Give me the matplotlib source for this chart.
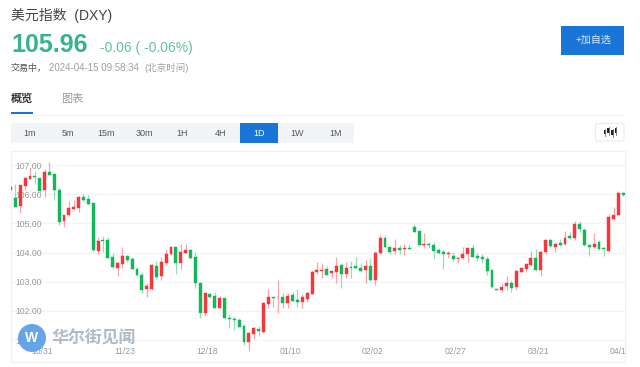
import matplotlib

matplotlib.use("Agg")
import matplotlib.pyplot as plt
from matplotlib.patches import Circle, FancyBboxPatch, Rectangle

plt.rcParams["font.family"] = ["Liberation Sans", "Noto Sans CJK SC", "DejaVu Sans"]

opens = [
    106.24, 105.86, 105.61, 106.28, 106.53, 106.63, 106.55, 106.14, 106.75, 106.68,
    106.16, 105.08, 105.28, 105.49, 105.54, 105.92, 105.82, 105.69, 104.07, 104.42,
    104.42, 103.84, 103.48, 103.60, 103.88, 103.78, 103.43, 103.24, 102.74, 102.74,
    103.53, 103.20, 103.63, 103.95, 104.19, 103.63, 104.00, 104.10, 103.84, 102.96,
    101.92, 102.57, 102.51, 102.11, 102.43, 101.77, 101.74, 101.69, 101.49, 100.95,
    101.22, 101.38, 101.28, 102.23, 102.48, 102.46, 102.47, 102.26, 102.53, 102.37,
    102.30, 102.41, 102.58, 103.32, 103.37, 103.42, 103.30, 103.32, 103.59, 103.27,
    103.52, 103.53, 103.47, 103.40, 103.54, 103.05, 103.98, 104.49, 104.19, 104.06,
    104.15, 104.11, 104.15, 104.89, 104.74, 104.27, 104.31, 104.26, 104.10, 104.01,
    103.95, 103.88, 103.78, 103.82, 103.95, 104.15, 103.87, 103.84, 103.78, 103.39,
    102.75, 102.73, 102.86, 102.95, 102.81, 103.35, 103.43, 103.59, 103.82, 103.39,
    104.01, 104.44, 104.19, 104.32, 104.28, 104.57, 104.49, 104.98, 104.77, 104.26,
    104.20, 104.35, 104.16, 104.07, 105.16, 105.27, 106.04,
]
highs = [
    106.24, 106.34, 106.31, 106.58, 106.91, 106.81, 106.57, 106.86, 107.11, 106.69,
    106.22, 105.29, 105.78, 105.80, 105.94, 106.02, 105.96, 105.72, 104.52, 104.57,
    104.55, 103.97, 103.69, 104.20, 103.92, 103.86, 103.51, 103.34, 102.95, 103.60,
    103.71, 103.86, 104.11, 104.24, 104.20, 104.30, 104.30, 104.11, 104.01, 102.97,
    102.63, 102.63, 102.64, 102.51, 102.45, 101.90, 101.81, 101.77, 101.55, 101.27,
    101.44, 101.49, 102.29, 102.74, 102.49, 103.06, 102.61, 102.63, 102.66, 102.75,
    102.58, 102.66, 103.40, 103.69, 103.63, 103.54, 103.40, 103.84, 103.60, 103.69,
    103.72, 103.84, 103.63, 103.75, 103.80, 104.06, 104.60, 104.60, 104.20, 104.45,
    104.26, 104.30, 104.30, 104.97, 104.75, 104.68, 104.37, 104.37, 104.15, 104.09,
    104.07, 104.02, 103.86, 104.20, 104.20, 104.28, 103.98, 103.94, 103.88, 103.40,
    102.75, 102.95, 103.18, 103.03, 103.40, 103.48, 103.63, 104.07, 104.12, 104.06,
    104.47, 104.47, 104.32, 104.45, 104.74, 104.72, 105.08, 105.08, 104.83, 104.27,
    104.68, 104.43, 104.18, 105.31, 105.55, 106.10, 106.08,
]
lows = [
    106.16, 105.55, 105.37, 106.14, 106.52, 106.34, 106.09, 105.92, 106.65, 105.80,
    104.95, 104.86, 105.25, 105.48, 105.40, 105.77, 105.62, 104.07, 103.95, 104.03,
    103.80, 103.45, 103.20, 103.48, 103.69, 103.43, 103.20, 102.63, 102.46, 102.71,
    103.11, 103.06, 103.58, 103.92, 103.27, 103.43, 103.98, 103.77, 102.78, 101.77,
    101.81, 102.43, 102.09, 102.09, 101.74, 101.43, 101.33, 101.44, 100.84, 100.62,
    101.04, 101.14, 101.24, 102.09, 102.15, 101.92, 102.09, 102.09, 102.32, 102.15,
    102.09, 102.32, 102.57, 103.27, 103.14, 103.23, 103.12, 102.97, 102.77, 103.12,
    103.14, 103.44, 103.32, 102.95, 103.04, 102.90, 103.95, 104.17, 103.95, 103.95,
    103.95, 103.90, 104.11, 104.70, 104.24, 104.17, 104.15, 103.78, 103.95, 103.43,
    103.80, 103.72, 103.63, 103.77, 103.67, 103.84, 103.72, 103.63, 103.23, 102.80,
    102.73, 102.64, 102.72, 102.66, 102.72, 103.32, 103.35, 103.54, 103.38, 103.18,
    103.94, 104.15, 104.03, 104.23, 104.26, 104.47, 104.43, 104.69, 104.23, 103.89,
    104.15, 104.09, 103.88, 104.03, 105.12, 105.27, 105.94,
]
closes = [
    106.16, 105.57, 106.30, 106.55, 106.62, 106.59, 106.12, 106.75, 106.65, 106.14,
    105.03, 105.29, 105.53, 105.56, 105.92, 105.80, 105.65, 104.09, 104.41, 104.39,
    103.83, 103.51, 103.64, 103.88, 103.76, 103.43, 103.22, 102.71, 102.86, 103.58,
    103.16, 103.66, 103.95, 104.20, 103.63, 104.01, 104.09, 103.80, 102.95, 101.94,
    102.61, 102.49, 102.09, 102.43, 101.76, 101.72, 101.69, 101.45, 100.92, 101.24,
    101.40, 101.30, 102.26, 102.47, 102.43, 102.48, 102.26, 102.50, 102.35, 102.31,
    102.46, 102.61, 103.35, 103.39, 103.40, 103.23, 103.36, 103.55, 103.26, 103.47,
    103.47, 103.46, 103.38, 103.54, 103.05, 104.00, 104.49, 104.18, 104.03, 104.15,
    104.09, 104.15, 104.12, 104.72, 104.27, 104.30, 104.25, 104.07, 103.99, 103.94,
    104.00, 103.77, 103.83, 103.94, 104.15, 103.86, 103.83, 103.78, 103.37, 102.81,
    102.73, 102.83, 102.95, 102.80, 103.38, 103.46, 103.60, 103.82, 103.39, 104.03,
    104.43, 104.21, 104.31, 104.26, 104.51, 104.51, 104.98, 104.80, 104.25, 104.20,
    104.30, 104.11, 104.11, 105.22, 105.29, 106.03, 105.96,
]

y_ticks = [107, 106, 105, 104, 103, 102, 101]
date_labels = ["10/31", "11/23", "12/18", "01/10", "02/02", "02/27", "03/21", "04/15"]
date_pos = [6.5, 23.5, 40.5, 57.5, 74.5, 91.5, 108.5, 125.5]
periods = ["1m", "5m", "15m", "30m", "1H", "4H", "1D", "1W", "1M"]
active_period = "1D"

RED = "#f8343c"
GREEN = "#12b65b"
BLUE = "#1976d8"
TEAL = "#37b48e"

W, H = 640, 367
fig = plt.figure(figsize=(W / 100, H / 100), dpi=100, facecolor="white")

# chart panel, in pixels of the page
left, right, top, bottom = 11, 625.3, 151, 361.7
ax = fig.add_axes([left / W, 1 - bottom / H, (right - left) / W, (bottom - top) / H], zorder=1)
ax.set_xlim(0.1, 126.4)
ax.set_ylim(100.26, 107.48)

for i in range(len(opens)):
    color = RED if closes[i] >= opens[i] else GREEN
    ax.vlines(i, lows[i], highs[i], color=color, linewidth=0.9, alpha=0.45, zorder=3)
    ax.bar(
        i,
        abs(closes[i] - opens[i]),
        bottom=min(opens[i], closes[i]),
        width=0.6,
        color=color,
        edgecolor=color,
        linewidth=0.3,
        zorder=4,
    )

ax.set_yticks(y_ticks)
ax.set_yticklabels([f"{v:.2f}" for v in y_ticks], ha="left")
ax.tick_params(axis="y", length=0, pad=-3, labelsize=6.2, labelcolor="#9a9a9a")
ax.set_xticks(date_pos)
ax.set_xticklabels(date_labels)
ax.tick_params(axis="x", length=0, pad=-10.6, labelsize=6.2, labelcolor="#9a9a9a")
for label in ax.get_xticklabels():
    label.set_clip_box(ax.bbox)
    label.set_clip_on(True)
ax.grid(axis="y", color="#f3f3f3", linewidth=0.9)
ax.set_axisbelow(True)
for spine in ax.spines.values():
    spine.set_color("#f0f0f0")
    spine.set_linewidth(0.9)

# page furniture and watermark on an overlay in pixel coordinates
ui = fig.add_axes([0, 0, 1, 1], zorder=2)
ui.set_xlim(0, W)
ui.set_ylim(H, 0)
ui.axis("off")
ui.patch.set_alpha(0)

ui.text(11, 15, "美元指数  (DXY)", fontsize=10, color="#444444", va="center")
ui.text(11, 45, "105.96", fontsize=18, fontweight="bold", color=TEAL, va="center")
ui.text(100.5, 48, "-0.06 ( -0.06%)", fontsize=10, color="#5fc2a4", va="center")
ui.text(11, 71, "交易中，", fontsize=6.5, color="#555555", va="baseline")
ui.text(49, 71, "2024-04-15 09:58:34", fontsize=7, color="#a0a0a0", va="baseline")
ui.text(144, 71, "(北京时间)", fontsize=6.8, color="#a0a0a0", va="baseline")

ui.text(11, 99, "概览", fontsize=8, fontweight="bold", color="#333333", va="center")
ui.text(61, 99, "图表", fontsize=8, color="#9a9a9a", va="center")
ui.add_patch(Rectangle((11, 112), 22, 2.2, color=BLUE, linewidth=0))
ui.plot([33, 624], [114.5, 114.5], color="#f2f2f2", linewidth=0.8)

ui.add_patch(Rectangle((561, 25.7), 63.3, 29.3, color=BLUE, linewidth=0))
ui.text(593, 40, "+加自选", fontsize=7.2, color="#dcebfb", ha="center", va="center")

ui.add_patch(Rectangle((11, 123), 343, 20, color="#f2f4f7", linewidth=0))
for n, name in enumerate(periods):
    x_mid = 29.5 + n * 38.2
    if name == active_period:
        ui.add_patch(Rectangle((x_mid - 19, 123), 38, 20, color=BLUE, linewidth=0))
    ui.text(
        x_mid,
        133,
        name,
        fontsize=6.5,
        color="white" if name == active_period else "#555555",
        ha="center",
        va="center",
    )

ui.add_patch(
    FancyBboxPatch(
        (595.5, 123.5),
        28.5,
        17.5,
        boxstyle="round,pad=0,rounding_size=1.5",
        facecolor="white",
        edgecolor="#e8ecf1",
        linewidth=0.8,
    )
)
for x_i, y_a, y_b, y_c, y_d in [
    (605, 128.5, 129.5, 134, 135.5),
    (608.5, 127, 128, 133, 135),
    (612.5, 129, 130, 135, 137),
    (616, 127, 128, 133, 134.5),
]:
    ui.plot([x_i, x_i], [y_a, y_d], color="#777777", linewidth=0.6)
    ui.add_patch(Rectangle((x_i - 1.2, y_b), 2.4, y_c - y_b, color="#222222", linewidth=0))

ui.add_patch(Circle((32, 338), 14, facecolor="#5a9de9", edgecolor="none", alpha=0.92))
ui.text(32, 338, "W", fontsize=10, fontweight="bold", color="white", ha="center", va="center")
ui.text(52, 338.5, "华尔街见闻", fontsize=12.2, fontweight="bold", color="#a9b4bf", va="center", alpha=0.9)

fig.savefig("out.png", dpi=100, facecolor="white")
plt.close(fig)
